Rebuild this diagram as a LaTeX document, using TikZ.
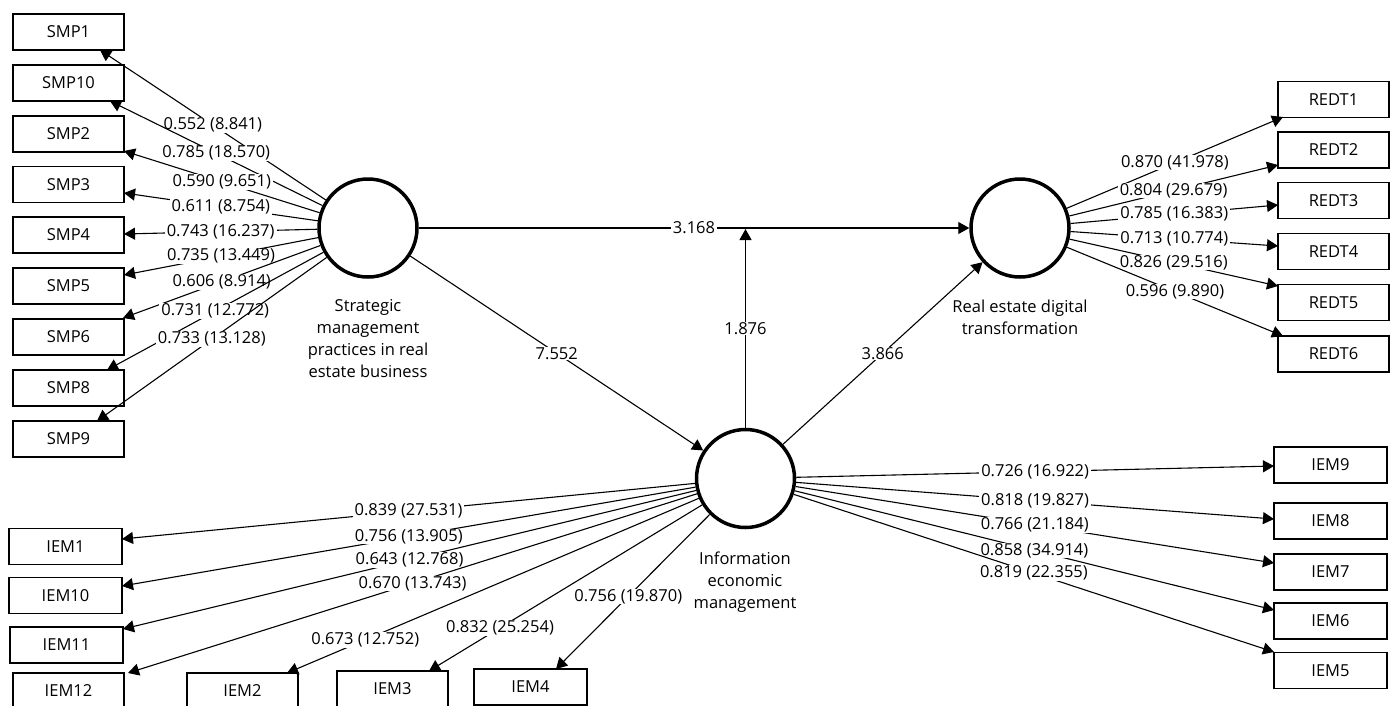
\documentclass[tikz,border=0pt]{standalone}
\usepackage{fontspec}
\setmainfont{Open Sans}
\usetikzlibrary{arrows.meta}
\begin{document}
\begin{tikzpicture}[x=1pt,y=-1pt,
  font=\fontsize{16.5}{22}\selectfont,
  ind/.style={draw, line width=1.2pt, minimum width=111pt, minimum height=36pt, inner sep=0pt},
  lat/.style={circle, draw, line width=3.5pt, minimum size=98pt, inner sep=0pt},
  conn/.style={line width=1.1pt, -{Triangle[length=11pt,width=12pt]}},
  lbl/.style={fill=white, inner xsep=2pt, inner ysep=0.5pt},
  capt/.style={align=center, inner sep=0pt}]
\useasboundingbox (0,0) rectangle (1396,705);
\clip (0,0) rectangle (1396,705);
\fill[white] (0,0) rectangle (1396,705);

% latent variables
\node[lat] (smp) at (368,228) {};
\node[lat] (redt) at (1020,228) {};
\node[lat] (iem) at (745.5,478.5) {};
\node[capt] (smpc) at (368,339) {Strategic\\management\\practices in real\\estate business};
\node[capt] (redtc) at (1020,317) {Real estate digital\\transformation};
\node[capt] (iemc) at (745,582) {Information\\economic\\management};

% SMP indicators
\node[ind] (smp1) at (68.5,32) {SMP1};
\node[ind] (smp10) at (68.5,83) {SMP10};
\node[ind] (smp2) at (68.5,134) {SMP2};
\node[ind] (smp3) at (68.5,184.5) {SMP3};
\node[ind] (smp4) at (68.5,235) {SMP4};
\node[ind] (smp5) at (68.5,286) {SMP5};
\node[ind] (smp6) at (68.5,337) {SMP6};
\node[ind] (smp8) at (68.5,388) {SMP8};
\node[ind] (smp9) at (68.5,439) {SMP9};

% REDT indicators
\node[ind] (redt1) at (1333.5,99.5) {REDT1};
\node[ind] (redt2) at (1333.5,150) {REDT2};
\node[ind] (redt3) at (1333.5,200.5) {REDT3};
\node[ind] (redt4) at (1333.5,251.5) {REDT4};
\node[ind] (redt5) at (1333.5,302.5) {REDT5};
\node[ind] (redt6) at (1333.5,354) {REDT6};

% IEM indicators right
\node[ind, minimum width=113pt] (iem9) at (1330.5,465) {IEM9};
\node[ind, minimum width=113pt] (iem8) at (1330.5,521) {IEM8};
\node[ind, minimum width=113pt] (iem7) at (1330.5,572) {IEM7};
\node[ind, minimum width=113pt] (iem6) at (1330.5,621) {IEM6};
\node[ind, minimum width=113pt] (iem5) at (1330.5,670.5) {IEM5};

% IEM indicators left / bottom
\node[ind, minimum width=113pt] (iem1) at (65.5,546.5) {IEM1};
\node[ind, minimum width=113pt] (iem10) at (65.5,595.5) {IEM10};
\node[ind, minimum width=113pt] (iem11) at (66.5,645) {IEM11};
\node[ind, minimum width=111pt] (iem12) at (68.5,691) {IEM12};
\node[ind, minimum width=111pt] (iem2) at (242.5,691) {IEM2};
\node[ind, minimum width=111pt] (iem3) at (392.5,689) {IEM3};
\node[ind, minimum width=113pt] (iem4) at (530.5,687) {IEM4};

% tip coordinates
\coordinate (tsmp1) at (100,50);
\coordinate (tsmp10) at (110,101);
\coordinate (tsmp2) at (124,151);
\coordinate (tsmp3) at (124,193);
\coordinate (tsmp4) at (124,234);
\coordinate (tsmp5) at (124,275);
\coordinate (tsmp6) at (123,318);
\coordinate (tsmp8) at (107,370);
\coordinate (tsmp9) at (97,421);

\coordinate (tredt1) at (1283,117);
\coordinate (tredt2) at (1278,165);
\coordinate (tredt3) at (1278,205);
\coordinate (tredt4) at (1278,246);
\coordinate (tredt5) at (1278,286);
\coordinate (tredt6) at (1283,336);

\coordinate (tiem9) at (1274,466);
\coordinate (tiem8) at (1274,519);
\coordinate (tiem7) at (1274,563);
\coordinate (tiem6) at (1274,610);
\coordinate (tiem5) at (1274,652);

\coordinate (tiem1) at (122,539);
\coordinate (tiem10) at (122,586);
\coordinate (tiem11) at (123,629);
\coordinate (tiem12) at (128,673);
\coordinate (tiem2) at (287,673);
\coordinate (tiem3) at (429,671);
\coordinate (tiem4) at (556,669);

\coordinate (mod) at (745.5,229);

% SMP loadings
\draw[conn] (smp) -- node[lbl]{0.552 (8.841)} (tsmp1);
\draw[conn] (smp) -- node[lbl]{0.785 (18.570)} (tsmp10);
\draw[conn] (smp) -- node[lbl]{0.590 (9.651)} (tsmp2);
\draw[conn] (smp) -- node[lbl]{0.611 (8.754)} (tsmp3);
\draw[conn] (smp) -- node[lbl]{0.743 (16.237)} (tsmp4);
\draw[conn] (smp) -- node[lbl]{0.735 (13.449)} (tsmp5);
\draw[conn] (smp) -- node[lbl]{0.606 (8.914)} (tsmp6);
\draw[conn] (smp) -- node[lbl]{0.731 (12.772)} (tsmp8);
\draw[conn] (smp) -- node[lbl]{0.733 (13.128)} (tsmp9);

% REDT loadings
\draw[conn] (redt) -- node[lbl]{0.870 (41.978)} (tredt1);
\draw[conn] (redt) -- node[lbl]{0.804 (29.679)} (tredt2);
\draw[conn] (redt) -- node[lbl]{0.785 (16.383)} (tredt3);
\draw[conn] (redt) -- node[lbl]{0.713 (10.774)} (tredt4);
\draw[conn] (redt) -- node[lbl]{0.826 (29.516)} (tredt5);
\draw[conn] (redt) -- node[lbl]{0.596 (9.890)} (tredt6);

% IEM loadings right
\draw[conn] (iem) -- node[lbl]{0.726 (16.922)} (tiem9);
\draw[conn] (iem) -- node[lbl]{0.818 (19.827)} (tiem8);
\draw[conn] (iem) -- node[lbl]{0.766 (21.184)} (tiem7);
\draw[conn] (iem) -- node[lbl]{0.858 (34.914)} (tiem6);
\draw[conn] (iem) -- node[lbl]{0.819 (22.355)} (tiem5);

% IEM loadings left
\draw[conn] (iem) -- node[lbl]{0.839 (27.531)} (tiem1);
\draw[conn] (iem) -- node[lbl]{0.756 (13.905)} (tiem10);
\draw[conn] (iem) -- node[lbl]{0.643 (12.768)} (tiem11);
\draw[conn] (iem) -- node[lbl]{0.670 (13.743)} (tiem12);
\draw[conn] (iem) -- node[lbl, pos=0.81]{0.673 (12.752)} (tiem2);
\draw[conn] (iem) -- node[lbl, pos=0.74]{0.832 (25.254)} (tiem3);
\draw[conn] (iem) -- node[lbl, pos=0.53]{0.756 (19.870)} (tiem4);

% structural paths
\draw[conn] (smp) -- node[lbl]{3.168} (redt);
\draw[conn] (smp) -- node[lbl]{7.552} (iem);
\draw[conn] (iem) -- node[lbl]{3.866} (redt);
\draw[conn] (iem) -- node[lbl]{1.876} (mod);
\end{tikzpicture}
\end{document}
